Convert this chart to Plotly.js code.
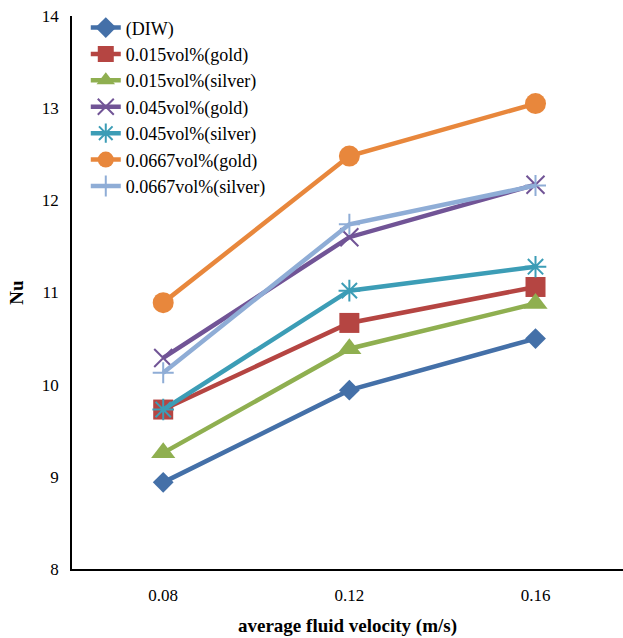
<!DOCTYPE html>
<html>
<head>
<meta charset="utf-8">
<script src="https://cdn.plot.ly/plotly-3.0.1.min.js"></script>
<style>html,body{margin:0;padding:0;background:#fff;}#chart{width:623px;height:638px;}</style>
</head>
<body>
<div id="chart"></div>
<script>
var velocities = ['0.08', '0.12', '0.16'];
var seriesNames = ['(DIW)', '0.015vol%(gold)', '0.015vol%(silver)', '0.045vol%(gold)', '0.045vol%(silver)', '0.0667vol%(gold)', '0.0667vol%(silver)'];
var nuDIW = [8.94, 9.94, 10.50];
var nuGold015 = [9.73, 10.67, 11.06];
var nuSilver015 = [9.26, 10.39, 10.88];
var nuGold045 = [10.29, 11.60, 12.17];
var nuSilver045 = [9.73, 11.02, 11.28];
var nuGold0667 = [10.89, 12.48, 13.05];
var nuSilver0667 = [10.13, 11.74, 12.16];
var yTicks = [8, 9, 10, 11, 12, 13, 14];

var allValues = [nuDIW, nuGold015, nuSilver015, nuGold045, nuSilver045, nuGold0667, nuSilver0667];
var colors = ['#4470A8', '#B54542', '#8FAF50', '#715496', '#3C9DB6', '#E8873C', '#8FADD6'];
var symbols = ['diamond', 'square', 'triangle-up', 'x-thin-open', 'asterisk-open', 'circle', 'cross-thin-open'];
var sizes = [16, 20, 21, 18, 18, 21, 15];

var FONT = 'Liberation Serif, Times New Roman, serif';

var traces = allValues.map(function(vals, i) {
  var thin = symbols[i].indexOf('open') >= 0;
  return {
    x: velocities,
    y: vals,
    name: seriesNames[i],
    type: 'scatter',
    mode: 'lines+markers',
    line: {color: colors[i], width: 4.5},
    marker: {symbol: symbols[i], size: sizes[i], color: colors[i],
             line: {color: colors[i], width: thin ? 2 : 0}}
  };
});

var layout = {
  width: 623, height: 638,
  margin: {l: 72, r: 0, t: 16, b: 69},
  paper_bgcolor: '#ffffff', plot_bgcolor: '#ffffff',
  font: {family: FONT, color: '#000', size: 17},
  showlegend: true,
  legend: {x: 0.025, y: 1.012, xanchor: 'left', yanchor: 'top', bgcolor: 'rgba(0,0,0,0)',
           font: {size: 18, family: FONT, color: '#000'}, tracegroupgap: 0},
  xaxis: {type: 'category', range: [-0.49, 2.47], showline: true, linecolor: '#000', linewidth: 1.8,
          showgrid: false, zeroline: false, ticks: '', ticklabelstandoff: 10,
          tickfont: {size: 17, family: FONT, color: '#000'},
          title: {text: '<b>average fluid velocity (m/s)</b>', font: {size: 19, family: FONT, color: '#000'}, standoff: 14}},
  yaxis: {range: [8, 14], tickvals: yTicks, showline: true, linecolor: '#000', linewidth: 1.8,
          showgrid: false, zeroline: false, ticks: '', ticklabelstandoff: 8,
          tickfont: {size: 17, family: FONT, color: '#000'},
          title: {text: '<b>Nu</b>', font: {size: 19, family: FONT, color: '#000'}, standoff: 13}}
};

Plotly.newPlot('chart', traces, layout, {displayModeBar: false, staticPlot: true});
</script>
</body>
</html>
